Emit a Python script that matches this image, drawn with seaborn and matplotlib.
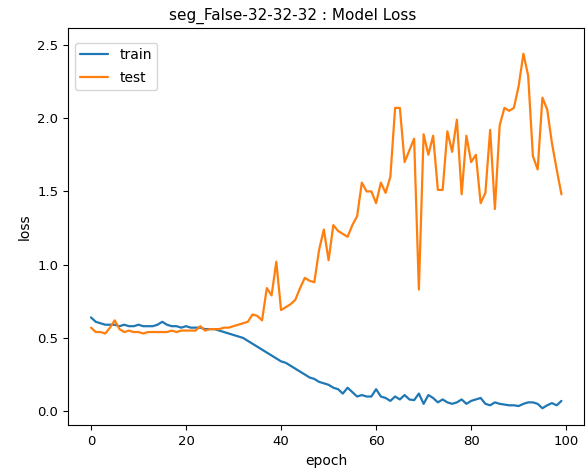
import matplotlib
matplotlib.use("Agg")
import matplotlib.pyplot as plt
import seaborn as sns
import numpy as np

epochs = list(range(100))
train_loss = [0.64, 0.61, 0.60, 0.59, 0.59, 0.59, 0.58, 0.59, 0.58, 0.58,
              0.59, 0.58, 0.58, 0.58, 0.59, 0.61, 0.59, 0.58, 0.58, 0.57,
              0.58, 0.57, 0.57, 0.57, 0.56, 0.56, 0.56, 0.55, 0.54, 0.53,
              0.52, 0.51, 0.50, 0.48, 0.46, 0.44, 0.42, 0.40, 0.38, 0.36,
              0.34, 0.33, 0.31, 0.29, 0.27, 0.25, 0.23, 0.22, 0.20, 0.19,
              0.18, 0.16, 0.15, 0.12, 0.16, 0.13, 0.10, 0.11, 0.10, 0.10,
              0.15, 0.10, 0.09, 0.07, 0.10, 0.08, 0.11, 0.08, 0.075, 0.12,
              0.05, 0.11, 0.09, 0.06, 0.08, 0.06, 0.05, 0.06, 0.08, 0.05,
              0.07, 0.08, 0.09, 0.05, 0.04, 0.06, 0.05, 0.045, 0.04, 0.04,
              0.035, 0.05, 0.06, 0.06, 0.05, 0.02, 0.04, 0.055, 0.04, 0.07]
test_loss = [0.57, 0.54, 0.54, 0.53, 0.57, 0.62, 0.56, 0.54, 0.55, 0.54,
             0.54, 0.53, 0.54, 0.54, 0.54, 0.54, 0.54, 0.55, 0.54, 0.55,
             0.55, 0.55, 0.55, 0.58, 0.55, 0.56, 0.56, 0.56, 0.57, 0.57,
             0.58, 0.59, 0.60, 0.61, 0.66, 0.65, 0.62, 0.84, 0.79, 1.02,
             0.69, 0.71, 0.73, 0.76, 0.84, 0.91, 0.89, 0.88, 1.10, 1.24,
             1.03, 1.27, 1.23, 1.21, 1.19, 1.27, 1.33, 1.56, 1.50, 1.50,
             1.42, 1.56, 1.49, 1.60, 2.07, 2.07, 1.70, 1.78, 1.86, 0.83,
             1.89, 1.75, 1.88, 1.51, 1.51, 1.91, 1.77, 1.99, 1.48, 1.88,
             1.70, 1.75, 1.42, 1.49, 1.92, 1.38, 1.95, 2.07, 2.05, 2.07,
             2.22, 2.44, 2.29, 1.74, 1.65, 2.14, 2.06, 1.83, 1.65, 1.48]
series_labels = ["train", "test"]
title_text = "seg_False-32-32-32 : Model Loss"

sns.set_style("white")
plt.rcParams.update({
    "axes.edgecolor": "black",
    "axes.linewidth": 0.8,
    "xtick.bottom": True,
    "ytick.left": True,
    "xtick.color": "black",
    "ytick.color": "black",
    "text.color": "black",
    "axes.labelcolor": "black",
    "xtick.major.size": 3.5,
    "ytick.major.size": 3.5,
})
plt.rcParams["font.family"] = ["DejaVu Sans"]

fig = plt.figure(figsize=(5.86, 4.73), dpi=100)
ax = fig.add_axes([0.116, 0.101, 0.881, 0.840])

colors = ["#1f77b4", "#ff7f0e"]
sns.lineplot(x=epochs, y=train_loss, ax=ax, color=colors[0], label=series_labels[0], linewidth=1.6)
sns.lineplot(x=epochs, y=test_loss, ax=ax, color=colors[1], label=series_labels[1], linewidth=1.6)

ax.set_xlim(-4.84, 103.8)
ax.set_ylim(-0.096, 2.616)
ax.set_xticks([0, 20, 40, 60, 80, 100])
ax.set_yticks([0.0, 0.5, 1.0, 1.5, 2.0, 2.5])
ax.set_xlabel("epoch", fontsize=10)
ax.set_ylabel("loss", fontsize=10)
ax.set_title(title_text, fontsize=11, x=0.435)
ax.tick_params(labelsize=9.5)
for s in ax.spines.values():
    s.set_visible(True)
ax.legend(loc="upper left", bbox_to_anchor=(0.0, 0.98), frameon=True, fancybox=True,
          framealpha=0.8, edgecolor="#cccccc", fontsize=10, labelspacing=0.6)

fig.savefig("out.png", dpi=100)
